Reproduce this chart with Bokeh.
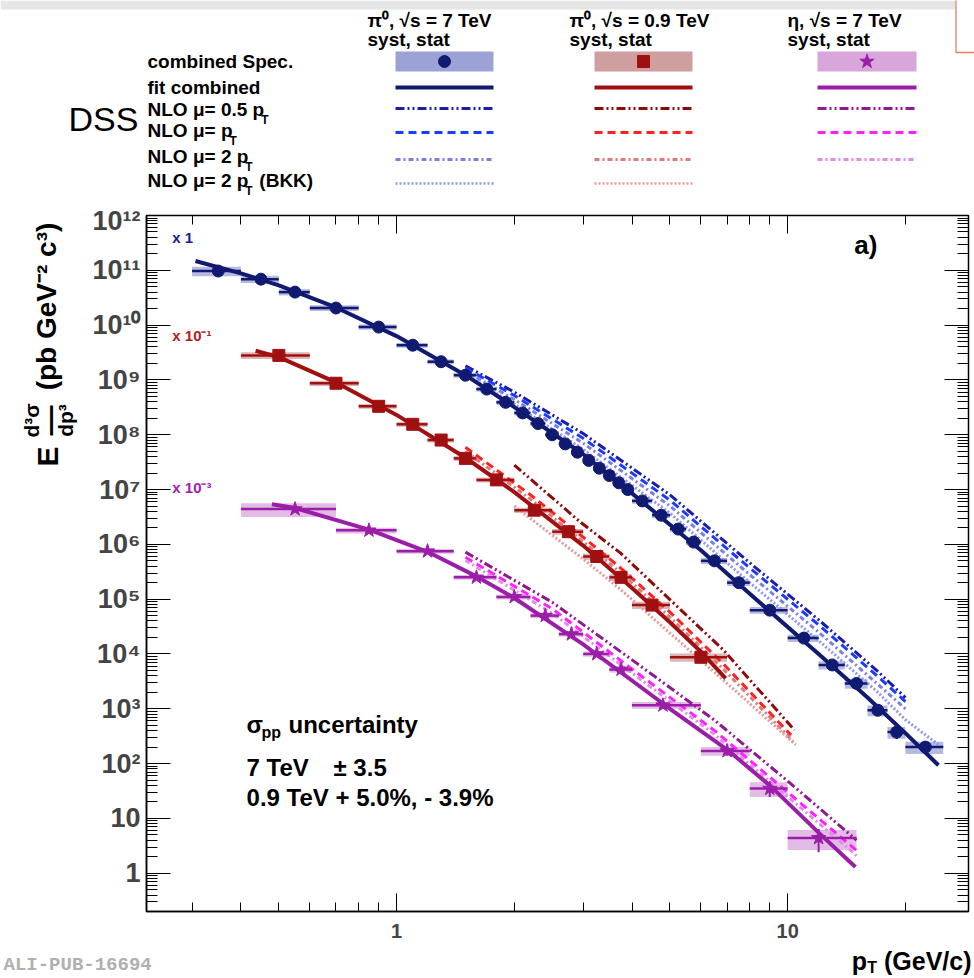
import math
from bokeh.plotting import figure
from bokeh.layouts import column, row
from bokeh.models import Range1d, LogAxis, CustomJSTickFormatter, Label, FixedTicker
from bokeh.embed import file_html
from bokeh.resources import INLINE
from bokeh.core.properties import value

FONT = "Liberation Sans"

# ---------------- data (values as plotted, i.e. already scaled) ----------------
# pi0, sqrt(s) = 7 TeV (x 1)
pi0_7_pt = [0.35, 0.45, 0.55, 0.7, 0.9, 1.1, 1.3, 1.5, 1.7, 1.9, 2.1, 2.3, 2.5, 2.7, 2.9, 3.1, 3.3,
            3.5, 3.7, 3.9, 4.25, 4.75, 5.25, 5.75, 6.5, 7.5, 9.0, 11.0, 13.0, 15.0, 17.0, 19.0, 22.5]
pi0_7_lo = [0.3, 0.4, 0.5, 0.6, 0.8, 1.0, 1.2, 1.4, 1.6, 1.8, 2.0, 2.2, 2.4, 2.6, 2.8, 3.0, 3.2,
            3.4, 3.6, 3.8, 4.0, 4.5, 5.0, 5.5, 6.0, 7.0, 8.0, 10.0, 12.0, 14.0, 16.0, 18.0, 20.0]
pi0_7_hi = [0.4, 0.5, 0.6, 0.8, 1.0, 1.2, 1.4, 1.6, 1.8, 2.0, 2.2, 2.4, 2.6, 2.8, 3.0, 3.2, 3.4,
            3.6, 3.8, 4.0, 4.5, 5.0, 5.5, 6.0, 7.0, 8.0, 10.0, 12.0, 14.0, 16.0, 18.0, 20.0, 25.0]
pi0_7_y = [9.7e10, 6.9e10, 4.0e10, 2.05e10, 9.2e9, 4.3e9, 2.15e9, 1.22e9, 6.8e8, 3.9e8, 2.5e8, 1.6e8,
           1.0e8, 6.8e7, 4.8e7, 3.4e7, 2.45e7, 1.8e7, 1.33e7, 1.0e7, 6.2e6, 3.4e6, 1.9e6, 1.1e6,
           5.0e5, 2.0e5, 6.3e4, 1.95e4, 6.3e3, 2.9e3, 9.4e2, 3.75e2, 2.0e2]
pi0_7_syst = [0.20, 0.15, 0.13, 0.12, 0.11, 0.10, 0.10, 0.10, 0.10, 0.10, 0.10, 0.10, 0.10, 0.10,
              0.10, 0.10, 0.10, 0.10, 0.10, 0.10, 0.11, 0.11, 0.12, 0.12, 0.13, 0.13, 0.14, 0.15,
              0.17, 0.20, 0.22, 0.24, 0.25]
pi0_7_stat = [0.01, 0.01, 0.01, 0.01, 0.01, 0.01, 0.01, 0.01, 0.01, 0.01, 0.01, 0.01, 0.01, 0.01,
              0.01, 0.01, 0.02, 0.02, 0.02, 0.02, 0.02, 0.03, 0.03, 0.04, 0.04, 0.05, 0.06, 0.08,
              0.10, 0.12, 0.15, 0.25, 0.20]
pi0_7_fit_pt = [0.306, 0.4, 0.5, 0.7, 1.0, 1.5, 2.0, 3.0, 4.0, 6.0, 8.0, 12.0, 16.0, 20.0, 24.3]
pi0_7_fit_y = [1.48e11, 8.8e10, 5.3e10, 2.1e10, 6.3e9, 1.22e9, 3.2e8, 4.4e7, 8.5e6, 7.8e5, 1.25e5,
               1.0e4, 1.6e3, 3.6e2, 9.3e1]
pi0_7_nlo_pt = [1.5, 2.0, 3.0, 5.0, 8.0, 12.0, 17.0, 20.0]
pi0_7_nlo_half = [1.8e9, 6.0e8, 1.05e8, 8.0e6, 4.6e5, 4.2e4, 4.8e3, 1.6e3]
pi0_7_nlo_one = [1.65e9, 5.2e8, 8.6e7, 6.4e6, 3.7e5, 3.4e4, 3.9e3, 1.35e3]
pi0_7_nlo_two = [1.45e9, 4.4e8, 7.0e7, 5.0e6, 2.8e5, 2.5e4, 2.8e3, 1.0e3]
pi0_7_bkk_pt = [1.5, 2.0, 3.0, 5.0, 8.0, 12.0, 17.0, 20.0, 25.0]
pi0_7_bkk = [1.25e9, 3.6e8, 5.4e7, 3.7e6, 2.0e5, 1.75e4, 2.0e3, 6.3e2, 1.9e2]

# pi0, sqrt(s) = 0.9 TeV (x 10^-1)
pi0_09_pt = [0.5, 0.7, 0.9, 1.1, 1.3, 1.5, 1.8, 2.25, 2.75, 3.25, 3.75, 4.5, 6.0]
pi0_09_lo = [0.4, 0.6, 0.8, 1.0, 1.2, 1.4, 1.6, 2.0, 2.5, 3.0, 3.5, 4.0, 5.0]
pi0_09_hi = [0.6, 0.8, 1.0, 1.2, 1.4, 1.6, 2.0, 2.5, 3.0, 3.5, 4.0, 5.0, 7.0]
pi0_09_y = [2.8e9, 8.7e8, 3.3e8, 1.55e8, 8.0e7, 3.7e7, 1.5e7, 4.2e6, 1.7e6, 6.0e5, 2.5e5, 7.8e4, 8.7e3]
pi0_09_syst = [0.14, 0.11, 0.10, 0.10, 0.10, 0.10, 0.10, 0.11, 0.12, 0.13, 0.14, 0.15, 0.17]
pi0_09_stat = [0.02, 0.02, 0.02, 0.02, 0.03, 0.03, 0.03, 0.04, 0.05, 0.07, 0.09, 0.12, 0.18]
pi0_09_fit_pt = [0.436, 0.5, 0.7, 1.0, 1.5, 2.0, 3.0, 4.0, 5.0, 6.0, 6.94]
pi0_09_fit_y = [3.4e9, 2.6e9, 9.0e8, 2.3e8, 3.8e7, 9.0e6, 9.5e5, 1.6e5, 3.8e4, 1.1e4, 3.6e3]
pi0_09_half_pt = [2.0, 2.96, 3.74, 5.0, 6.86, 10.4]
pi0_09_nlo_half = [2.8e7, 2.5e6, 6.9e5, 9.8e4, 1.17e4, 4.1e2]
pi0_09_one_pt = [1.5, 2.2, 3.0, 3.74, 5.0, 6.86, 10.2]
pi0_09_nlo_one = [5.9e7, 8.0e6, 1.35e6, 3.7e5, 5.8e4, 6.5e3, 3.3e2]
pi0_09_two_pt = [1.5, 2.2, 3.0, 3.74, 5.0, 6.86, 10.3]
pi0_09_nlo_two = [5.0e7, 6.7e6, 1.12e6, 3.05e5, 4.7e4, 5.2e3, 2.6e2]
pi0_09_bkk_pt = [2.0, 3.0, 3.74, 5.0, 6.86, 10.5]
pi0_09_bkk = [5.0e6, 5.4e5, 1.5e5, 2.4e4, 3.3e3, 2.2e2]

# eta, sqrt(s) = 7 TeV (x 10^-3)
eta_pt = [0.55, 0.85, 1.2, 1.6, 2.0, 2.4, 2.8, 3.25, 3.75, 4.8, 7.0, 9.0, 12.0]
eta_lo = [0.4, 0.7, 1.0, 1.4, 1.8, 2.2, 2.6, 3.0, 3.5, 4.0, 6.0, 8.0, 10.0]
eta_hi = [0.7, 1.0, 1.4, 1.8, 2.2, 2.6, 3.0, 3.5, 4.0, 6.0, 8.0, 10.0, 15.0]
eta_y = [4.4e6, 1.8e6, 7.5e5, 2.5e5, 1.1e5, 5.0e4, 2.3e4, 1.0e4, 5.2e3, 1.16e3, 1.7e2, 35.0, 4.4]
eta_syst = [0.28, 0.12, 0.10, 0.10, 0.10, 0.10, 0.10, 0.11, 0.12, 0.14, 0.18, 0.30, 0.40]
eta_stat = [0.05, 0.04, 0.04, 0.05, 0.06, 0.07, 0.08, 0.09, 0.10, 0.12, 0.18, 0.30, 0.45]
eta_fit_pt = [0.48, 0.55, 0.85, 1.2, 1.6, 2.0, 3.0, 5.0, 7.0, 9.0, 12.0, 14.9]
eta_fit_y = [5.4e6, 4.6e6, 1.85e6, 7.3e5, 2.6e5, 1.05e5, 1.5e4, 1.0e3, 1.8e2, 40.0, 5.5, 1.3]
eta_nlo_pt = [1.5, 2.5, 4.0, 6.5, 10.0, 15.0]
eta_nlo_half = [7.2e5, 8.8e4, 7.8e3, 6.2e2, 48.0, 4.0]
eta_nlo_one = [5.8e5, 6.7e4, 5.3e3, 4.0e2, 30.0, 2.6]
eta_nlo_two = [5.1e5, 5.5e4, 4.5e3, 3.4e2, 25.0, 2.1]

# ---------------- styles ----------------
NAVY, DRED, PURP = "#101a70", "#a11010", "#9b1ea8"
BOX = {"b": "#9da2d6", "r": "#cf9e9e", "m": "#d9a6dc"}
NLO_COL = {
    "b": ["#1c1caa", "#1a3cff", "#7b7fe0", "#8d98f0"],
    "r": ["#8e0a0a", "#ff2020", "#e07a7a", "#e79a9a"],
    "m": ["#8e1a92", "#ff20ff", "#e08be6"],
}
DASH = ["9 3 2 3 2 3", "8 5", "5 3 2 3", "2 2"]

# Arial-bold-like widths (per 1000 em) for placing sub/superscripts
W = {" ": 278, ".": 278, ",": 278, "(": 333, ")": 333, "=": 584, "+": 584, "-": 333, "%": 889,
     "A": 722, "B": 722, "C": 722, "K": 722, "L": 611, "N": 722, "O": 778, "S": 667, "T": 611,
     "V": 667, "G": 778, "a": 556, "b": 611, "c": 556, "d": 611, "e": 556, "f": 333, "i": 278,
     "m": 889, "n": 611, "o": 611, "p": 611, "r": 389, "s": 556, "t": 333, "u": 611, "y": 556,
     "μ": 611, "/": 278}


def tw(s, size):
    return sum(W.get(c, 556) for c in s) * size / 1000.0


def ptext(fig, x, y, s, size, color="black", align="left", bold=True, angle=0.0, font=FONT):
    fig.text(x=[x], y=[y], text=[s], text_font=value(font),
             text_font_style="bold" if bold else "normal", text_font_size=f"{size}px",
             text_baseline="middle", text_align=align, text_color=color, angle=angle)


def panel(w, h, x0, x1, y_bottom, y_top):
    return figure(width=w, height=h, x_range=Range1d(x0, x1), y_range=Range1d(y_bottom, y_top),
                  x_axis_type=None, y_axis_type=None, toolbar_location=None, output_backend="svg",
                  min_border=0, outline_line_color=None, frame_align=False)


# ================= top legend panel (page pixel coordinates) =================
top = panel(974, 205, 0, 974, 205, 0)
top.quad(left=[0], right=[955], top=[0], bottom=[9], fill_color="#e6e6e6", line_color=None)
top.quad(left=[955.5], right=[990], top=[-5], bottom=[52], fill_color="white",
         line_color="#e2825e", line_width=1.3)

LF = 19
col_x0 = [395, 594, 817]
col_x1 = [493, 692, 916]
head_x = [367, 569, 787]
headers = ["π⁰, √s = 7 TeV", "π⁰, √s = 0.9 TeV", "η, √s = 7 TeV"]
for hx, h in zip(head_x, headers):
    ptext(top, hx, 20, h, LF)
    ptext(top, hx, 39, "syst, stat", LF)

rows = [("combined Spec.", "", "", 61), ("fit combined", "", "", 87), ("NLO μ= 0.5 p", "T", "", 109),
        ("NLO μ= p", "T", "", 130), ("NLO μ= 2 p", "T", "", 156), ("NLO μ= 2 p", "T", " (BKK)", 180)]
for main, sub, tail, yy in rows:
    ptext(top, 147, yy, main, LF)
    if sub:
        sx = 147 + tw(main, LF) - 3
        ptext(top, sx, yy + 10, sub, 12)
        if tail:
            ptext(top, sx + 14, yy, tail, LF)

ptext(top, 68, 118, "DSS", 34, bold=False)

keys = ["b", "r", "m"]
main_cols = [NAVY, DRED, PURP]
markers = ["circle", "square", "star"]
msizes = [12, 12, 15]
line_rows = [108, 132, 159, 183]
for k, x0, x1, mc, mk, ms in zip(keys, col_x0, col_x1, main_cols, markers, msizes):
    top.quad(left=[x0], right=[x1], top=[51], bottom=[71], fill_color=BOX[k], line_color=None)
    top.scatter(x=[(x0 + x1) / 2], y=[61], marker=mk, size=ms, fill_color=mc, line_color=mc)
    top.line(x=[x0, x1], y=[87, 87], line_color=mc, line_width=4)
    for i, col in enumerate(NLO_COL[k]):
        top.line(x=[x0, x1], y=[line_rows[i], line_rows[i]], line_color=col,
                 line_width=3 if i < 3 else 2.5, line_dash=DASH[i])

# ================= left panel: y-axis title (page pixel coordinates) =================
left = panel(80, 743, 0, 80, 948, 205)
A = math.pi / 2
ptext(left, 46, 306, "(pb GeV⁻² c³)", 28, align="center", angle=A)
ptext(left, 47, 456, "E", 30, align="center", angle=A)
ptext(left, 31, 420, "d³σ", 21, align="center", angle=A)
ptext(left, 49, 420, "—", 30, align="center", angle=A)
ptext(left, 65, 420, "dp³", 21, align="center", angle=A)

# ================= bottom panel: x-axis title and tag (page pixel coordinates) =================
bottom = panel(974, 30, 0, 974, 978, 948)
xt_tail = "(GeV/c)"
ptext(bottom, 971, 960, xt_tail, 25, align="right")
t_right = 971 - tw(xt_tail, 25) - 7
ptext(bottom, t_right, 967, "T", 16, align="right")
ptext(bottom, t_right - 10, 960, "p", 25, align="right")
ptext(bottom, 3, 964, "ALI-PUB-16694", 19, "#b0b0b0", font="Liberation Mono")

# ================= main plot =================
p = figure(width=894, height=743, x_axis_type="log", y_axis_type="log",
           x_range=Range1d(0.2294, 29.0), y_range=Range1d(0.2, 1e12),
           toolbar_location=None, output_backend="svg", frame_align=False,
           min_border_left=66, min_border_right=6, min_border_top=10, min_border_bottom=37)
p.grid.visible = False
p.outline_line_color = "black"
p.outline_line_width = 1.5

fmt = CustomJSTickFormatter(code="""
const e = Math.round(Math.log10(tick));
if (e === 0) return "1";
if (e === 1) return "10";
const sup = {"0":"⁰","1":"¹","2":"²","3":"³","4":"⁴","5":"⁵","6":"⁶","7":"⁷","8":"⁸","9":"⁹","-":"⁻"};
return "10" + String(e).split("").map(c => sup[c]).join("");
""")
yt = FixedTicker(ticks=[10.0 ** i for i in range(0, 13)],
                 minor_ticks=[m * 10.0 ** i for i in range(-1, 12) for m in range(2, 10)])
xt = FixedTicker(ticks=[1.0, 10.0],
                 minor_ticks=[m * 10.0 ** i for i in range(-1, 2) for m in range(2, 10)])

for ax in p.yaxis:
    ax.ticker = yt
    ax.formatter = fmt
    ax.major_tick_in = 24
    ax.major_tick_out = 0
    ax.minor_tick_in = 11
    ax.minor_tick_out = 0
    ax.axis_line_width = 1.5
    ax.major_label_text_font = FONT
    ax.major_label_text_font_style = "bold"
    ax.major_label_text_font_size = "27px"
    ax.major_label_standoff = 6
for ax in p.xaxis:
    ax.ticker = xt
    ax.formatter = fmt
    ax.major_tick_in = 18
    ax.major_tick_out = 0
    ax.minor_tick_in = 9
    ax.minor_tick_out = 0
    ax.axis_line_width = 1.5
    ax.major_label_text_font = FONT
    ax.major_label_text_font_style = "bold"
    ax.major_label_text_font_size = "20px"
    ax.major_label_standoff = 12

ax_top = LogAxis(ticker=xt, major_tick_in=18, major_tick_out=0, minor_tick_in=9, minor_tick_out=0,
                 major_label_text_font_size="1px", major_label_text_alpha=0.0,
                 major_label_standoff=0, axis_line_color=None)
ax_right = LogAxis(ticker=yt, major_tick_in=24, major_tick_out=0, minor_tick_in=11, minor_tick_out=0,
                   major_label_text_font_size="1px", major_label_text_alpha=0.0,
                   major_label_standoff=0, axis_line_color=None)
p.add_layout(ax_top, "above")
p.add_layout(ax_right, "right")


def draw_boxes(lo, hi, y, syst, box):
    p.quad(left=lo, right=hi, bottom=[v * (1 - s) for v, s in zip(y, syst)],
           top=[v * (1 + s) for v, s in zip(y, syst)], fill_color=box, fill_alpha=0.75, line_color=None)


def draw_points(pt, lo, hi, y, stat, color, marker, msize):
    p.segment(x0=lo, y0=y, x1=hi, y1=y, line_color=color, line_width=2.5)
    p.segment(x0=pt, y0=[v * (1 - s) for v, s in zip(y, stat)], x1=pt,
              y1=[v * (1 + s) for v, s in zip(y, stat)], line_color=color, line_width=2)
    p.scatter(x=pt, y=y, marker=marker, size=msize, fill_color=color, line_color=color)


# systematic boxes
draw_boxes(pi0_7_lo, pi0_7_hi, pi0_7_y, pi0_7_syst, BOX["b"])
draw_boxes(pi0_09_lo, pi0_09_hi, pi0_09_y, pi0_09_syst, BOX["r"])
draw_boxes(eta_lo, eta_hi, eta_y, eta_syst, BOX["m"])

# NLO curves
nlo = [
    ("b", pi0_7_nlo_pt, pi0_7_nlo_half, 0), ("b", pi0_7_nlo_pt, pi0_7_nlo_one, 1),
    ("b", pi0_7_nlo_pt, pi0_7_nlo_two, 2), ("b", pi0_7_bkk_pt, pi0_7_bkk, 3),
    ("r", pi0_09_half_pt, pi0_09_nlo_half, 0), ("r", pi0_09_one_pt, pi0_09_nlo_one, 1),
    ("r", pi0_09_two_pt, pi0_09_nlo_two, 2), ("r", pi0_09_bkk_pt, pi0_09_bkk, 3),
    ("m", eta_nlo_pt, eta_nlo_half, 0), ("m", eta_nlo_pt, eta_nlo_one, 1),
    ("m", eta_nlo_pt, eta_nlo_two, 2),
]
for k, xs, ys, i in nlo:
    p.line(x=xs, y=ys, line_color=NLO_COL[k][i], line_width=3, line_dash=DASH[i])

# fits
p.line(x=pi0_7_fit_pt, y=pi0_7_fit_y, line_color=NAVY, line_width=4)
p.line(x=pi0_09_fit_pt, y=pi0_09_fit_y, line_color=DRED, line_width=4)
p.line(x=eta_fit_pt, y=eta_fit_y, line_color=PURP, line_width=4)

# points
draw_points(pi0_7_pt, pi0_7_lo, pi0_7_hi, pi0_7_y, pi0_7_stat, NAVY, "circle", 12)
draw_points(pi0_09_pt, pi0_09_lo, pi0_09_hi, pi0_09_y, pi0_09_stat, DRED, "square", 12)
draw_points(eta_pt, eta_lo, eta_hi, eta_y, eta_stat, PURP, "star", 15)


def lab(x, y, text, size, color="black", align="left", xo=0, yo=0):
    p.add_layout(Label(x=x, y=y, text=text, text_font=FONT, text_font_size=f"{size}px",
                       text_font_style="bold", text_color=color, text_align=align,
                       text_baseline="middle", x_offset=xo, y_offset=yo))


# scale labels and panel tag
lab(0.267, 4.0e11, "x 1", 15, "#1c1c8c")
lab(0.267, 6.6e9, "x 10⁻¹", 15, "#b02020")
lab(0.267, 1.1e7, "x 10⁻³", 15, "#a020b0")
lab(14.8, 2.9e11, "a)", 26)

# sigma_pp uncertainty block
SX = 0.4134
lab(SX, 524, "σ", 24)
lab(SX, 524, "pp", 16, xo=15, yo=-8)
lab(SX, 524, "uncertainty", 24, xo=42)
lab(SX, 86, "7 TeV", 24)
lab(SX, 86, "± 3.5", 24, xo=87)
lab(SX, 24.4, "0.9 TeV + 5.0%, - 3.9%", 24)

layout = column(top, row(left, p, spacing=0), bottom, spacing=0)
open("out.html", "w").write(file_html(layout, INLINE))
